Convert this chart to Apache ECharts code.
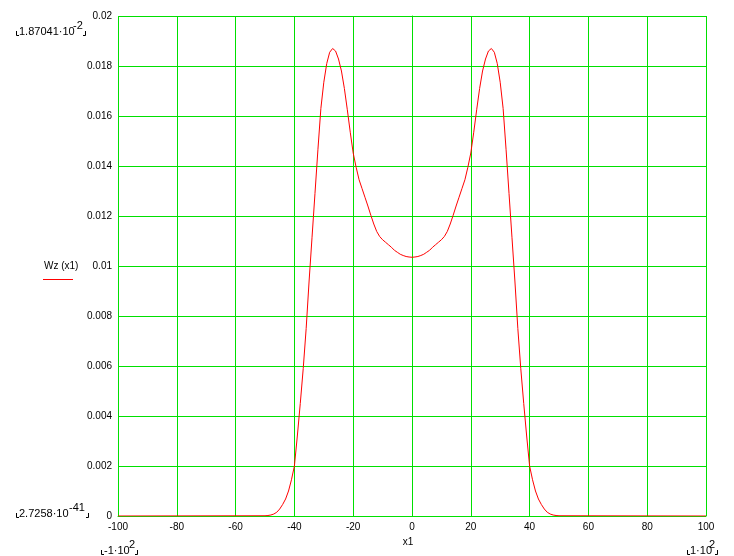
<!DOCTYPE html>
<html>
<head>
<meta charset="utf-8">
<script src="https://cdn.jsdelivr.net/npm/echarts@6/dist/echarts.min.js"></script>
<style>
html,body{margin:0;padding:0;background:#fff;}
#chart{width:734px;height:556px;}
</style>
</head>
<body>
<div id="chart"></div>
<script>
// x values of the sampled curve
var xValues = [-100,
 -50,-49,-48,-47,-46,-45,-44,-43,-42,-41,
 -40,-39,-38,-37,-36,-35,-34,-33,-32,-31,
 -30,-29,-28,-27,-26,-25,-24,-23,-22,-21,
 -20,-19,-18,-17,-16,-15,-14,-13,-12,-11,
 -10,-9,-8,-7,-6,-5,-4,-3,-2,-1,
 0,
 1,2,3,4,5,6,7,8,9,10,
 11,12,13,14,15,16,17,18,19,20,
 21,22,23,24,25,26,27,28,29,30,
 31,32,33,34,35,36,37,38,39,40,
 41,42,43,44,45,46,47,48,49,50,
 100];
// Wz(x1) values
var wzValues = [0,
 0.00001,0.00002,0.00004,0.00008,0.00015,0.00028,0.00046,0.00068,0.00100,0.00145,
 0.00200,0.00320,0.00450,0.00590,0.00750,0.00940,0.01115,0.01290,0.01465,0.01630,
 0.01735,0.01810,0.01855,0.01870,0.01860,0.01828,0.01780,0.01710,0.01625,0.01535,
 0.01452,0.01395,0.01345,0.01310,0.01275,0.01240,0.01203,0.01168,0.01138,0.01118,
 0.01105,0.01095,0.01085,0.01075,0.01063,0.01055,0.01047,0.01042,0.01038,0.01036,
 0.01035,
 0.01036,0.01038,0.01042,0.01047,0.01055,0.01063,0.01075,0.01085,0.01095,0.01105,
 0.01118,0.01138,0.01168,0.01203,0.01240,0.01275,0.01310,0.01345,0.01395,0.01452,
 0.01535,0.01625,0.01710,0.01780,0.01828,0.01860,0.01870,0.01855,0.01810,0.01735,
 0.01630,0.01465,0.01290,0.01115,0.00940,0.00750,0.00590,0.00450,0.00320,0.00200,
 0.00145,0.00100,0.00068,0.00046,0.00028,0.00015,0.00008,0.00004,0.00002,0.00001,
 0];
// axis ranges and annotation texts
var xMin = -100, xMax = 100, xStep = 20;
var yMin = 0, yMax = 0.02, yStep = 0.002;
var yTopText = '1.87041\u00b710', yTopExp = '-2';
var yBotText = '2.7258\u00b710', yBotExp = '-41';
var xLeftText = '-1\u00b710', xLeftExp = '2';
var xRightText = '1\u00b710', xRightExp = '2';
var yName = 'Wz (x1)';
var xName = 'x1';

var pts = xValues.map(function (x, i) { return [x, wzValues[i]]; });

var FONT = 'Liberation Sans, Arial, sans-serif';
var GREEN = '#00e000';
var chart = echarts.init(document.getElementById('chart'), null, {renderer: 'canvas'});

function txt(x, y, s, size, align, vAlign) {
  return {type: 'text', x: x, y: y, z: 10, style: {text: s, fill: '#000', font: size + 'px ' + FONT, textAlign: align || 'left', textVerticalAlign: vAlign || 'top'}};
}
function bracketL(x, y) {
  return {type: 'polyline', z: 10, shape: {points: [[x + 0.5, y - 4], [x + 0.5, y + 0.5], [x + 3, y + 0.5]]}, style: {stroke: '#000', lineWidth: 1, fill: null}};
}
function bracketR(x, y) {
  return {type: 'polyline', z: 10, shape: {points: [[x - 2, y + 0.5], [x + 0.5, y + 0.5], [x + 0.5, y - 4]]}, style: {stroke: '#000', lineWidth: 1, fill: null}};
}

chart.setOption({
  animation: false,
  backgroundColor: '#fff',
  grid: {left: 118, right: 28, top: 16, bottom: 40, containLabel: false},
  xAxis: {
    type: 'value', min: xMin, max: xMax, interval: xStep,
    axisLine: {show: true, onZero: false, lineStyle: {color: GREEN, width: 1}},
    axisTick: {show: false},
    axisLabel: {color: '#000', fontSize: 10, fontFamily: FONT, margin: 6},
    splitLine: {show: true, lineStyle: {color: GREEN, width: 1}}
  },
  yAxis: {
    type: 'value', min: yMin, max: yMax, interval: yStep,
    axisLine: {show: true, lineStyle: {color: GREEN, width: 1}},
    axisTick: {show: false},
    axisLabel: {color: '#000', fontSize: 10, fontFamily: FONT, margin: 6},
    splitLine: {show: true, lineStyle: {color: GREEN, width: 1}}
  },
  series: [{
    type: 'line', data: pts, showSymbol: false, symbol: 'none', smooth: false,
    lineStyle: {color: '#ff0000', width: 1}, z: 5
  }],
  graphic: [
    // top y limit
    bracketL(16, 35), txt(19, 26, yTopText, 11), txt(73, 20, yTopExp, 11), bracketR(85, 35),
    // bottom y limit
    bracketL(16, 517), txt(19, 508, yBotText, 11), txt(69, 502, yBotExp, 11), bracketR(88, 517),
    // left x limit
    bracketL(101, 554), txt(104, 545, xLeftText, 11), txt(129, 539, xLeftExp, 11), bracketR(137, 554),
    // right x limit
    bracketL(687, 554), txt(690, 545, xRightText, 11), txt(709, 539, xRightExp, 11), bracketR(717, 554),
    // axis names
    txt(44, 261, yName, 10),
    {type: 'line', z: 10, shape: {x1: 43, y1: 279.5, x2: 73, y2: 279.5}, style: {stroke: '#ff0000', lineWidth: 1}},
    txt(408, 537, xName, 10, 'center')
  ]
});
</script>
</body>
</html>
